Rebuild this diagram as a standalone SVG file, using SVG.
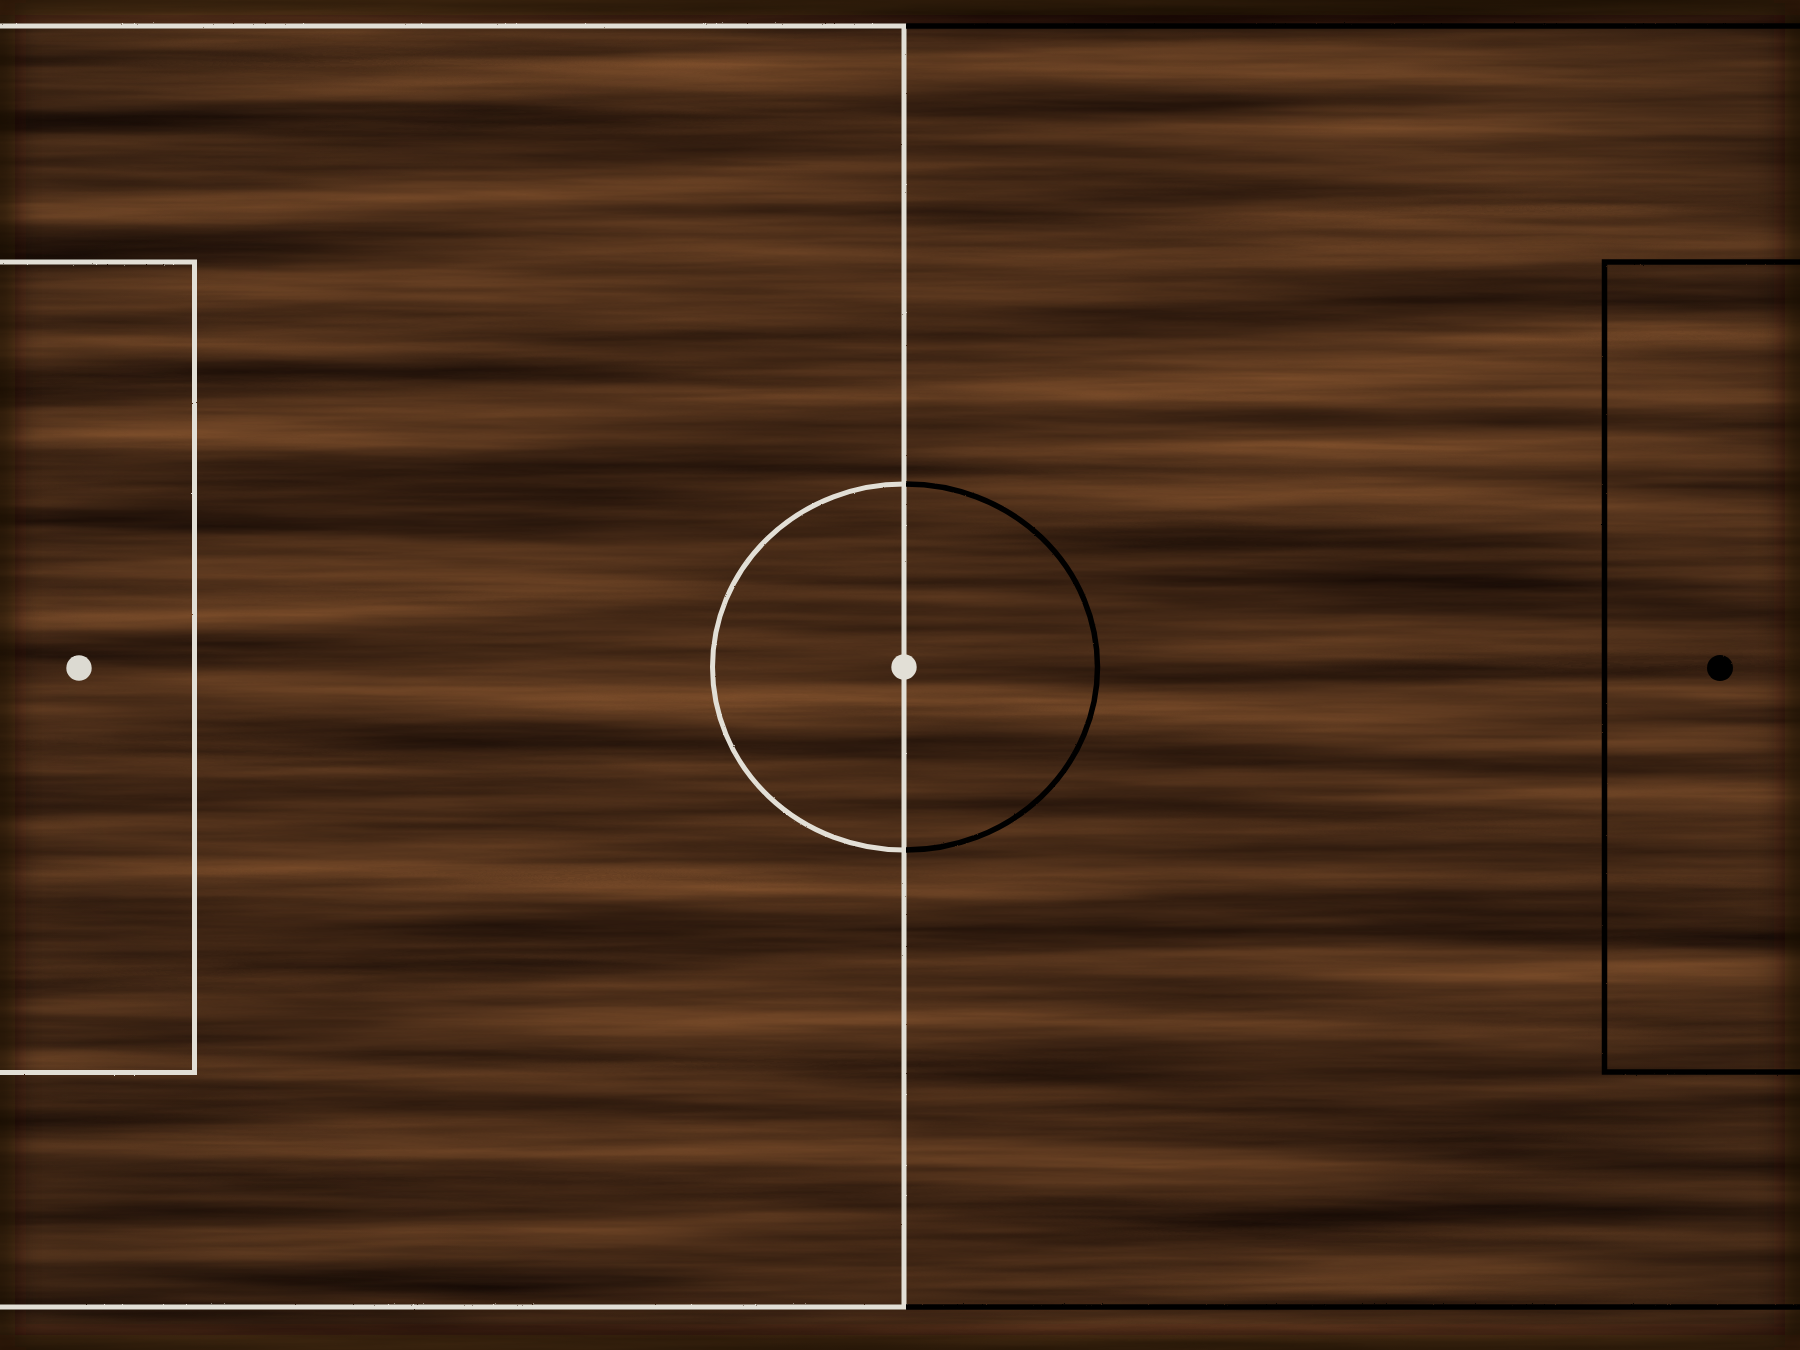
<svg xmlns="http://www.w3.org/2000/svg" width="1800" height="1350" viewBox="0 0 1800 1350">
  <defs>
    <filter id="wood" x="0" y="0" width="100%" height="100%" color-interpolation-filters="sRGB">
      <feTurbulence type="fractalNoise" baseFrequency="0.0011 0.022" numOctaves="5" seed="11" result="n"/>
      <feColorMatrix in="n" type="matrix" values="0.55 0 0 0 0.015  0.36 0 0 0 -0.005  0.2 0 0 0 -0.005  0 0 0 0 1"/>
    </filter>
    <filter id="grain" x="0" y="0" width="100%" height="100%" color-interpolation-filters="sRGB">
      <feTurbulence type="fractalNoise" baseFrequency="0.004 0.12" numOctaves="3" seed="4" result="g"/>
      <feColorMatrix in="g" type="matrix" values="0 0 0 0 0.1  0 0 0 0 0.05  0 0 0 0 0.02  -1.2 0 0 0 0.7"/>
    </filter>
    <filter id="chalk" x="-5%" y="-5%" width="110%" height="110%">
      <feTurbulence type="fractalNoise" baseFrequency="0.9" numOctaves="1" seed="3" result="t"/>
      <feDisplacementMap in="SourceGraphic" in2="t" scale="2" xChannelSelector="R" yChannelSelector="G"/>
    </filter>
    <filter id="edgeblur" x="-10%" y="-10%" width="120%" height="120%">
      <feGaussianBlur stdDeviation="12"/>
    </filter>
    <radialGradient id="vig" cx="50%" cy="50%" r="75%">
      <stop offset="0.6" stop-color="#000" stop-opacity="0"/>
      <stop offset="1" stop-color="#000" stop-opacity="0.25"/>
    </radialGradient>
    <style>
      .w { fill: none; stroke: #e2dfd6; stroke-width: 5; }
      .b { fill: none; stroke: #050403; stroke-width: 5.5; }
    </style>
  </defs>

  <g id="background">
    <rect x="0" y="0" width="1800" height="1350" fill="#4a2c17"/>
    <rect x="0" y="0" width="1800" height="1350" filter="url(#wood)"/>
    <rect x="0" y="0" width="1800" height="1350" filter="url(#grain)" opacity="0.3"/>
    <rect x="0" y="0" width="1800" height="1350" fill="url(#vig)"/>
    <rect x="0" y="0" width="1800" height="1350" fill="none" stroke="#1a0d05" stroke-width="30" opacity="0.7" filter="url(#edgeblur)"/>
  </g>

  <g id="left-half" filter="url(#chalk)">
    <path class="w" d="M0,26 H904 V1307 H0"/>
    <path class="w" d="M0,262 H194.5 V1072.5 H0"/>
    <path class="w" d="M904,484 A191.5,183 0 0 0 904,850"/>
    <circle cx="79" cy="668" r="12.7" fill="#dcdad2"/>
  </g>

  <g id="right-half" filter="url(#chalk)">
    <path class="b" d="M906,26 H1800"/>
    <path class="b" d="M906,1307 H1800"/>
    <path class="b" d="M1800,262 H1604.5 V1072 H1800"/>
    <path class="b" d="M906,484 A191.5,183 0 0 1 906,850"/>
    <circle cx="1720" cy="668" r="13" fill="#050403"/>
  </g>

  <g id="center-spot">
    <circle cx="904" cy="667" r="12.7" fill="#e2dfd6"/>
  </g>
</svg>
